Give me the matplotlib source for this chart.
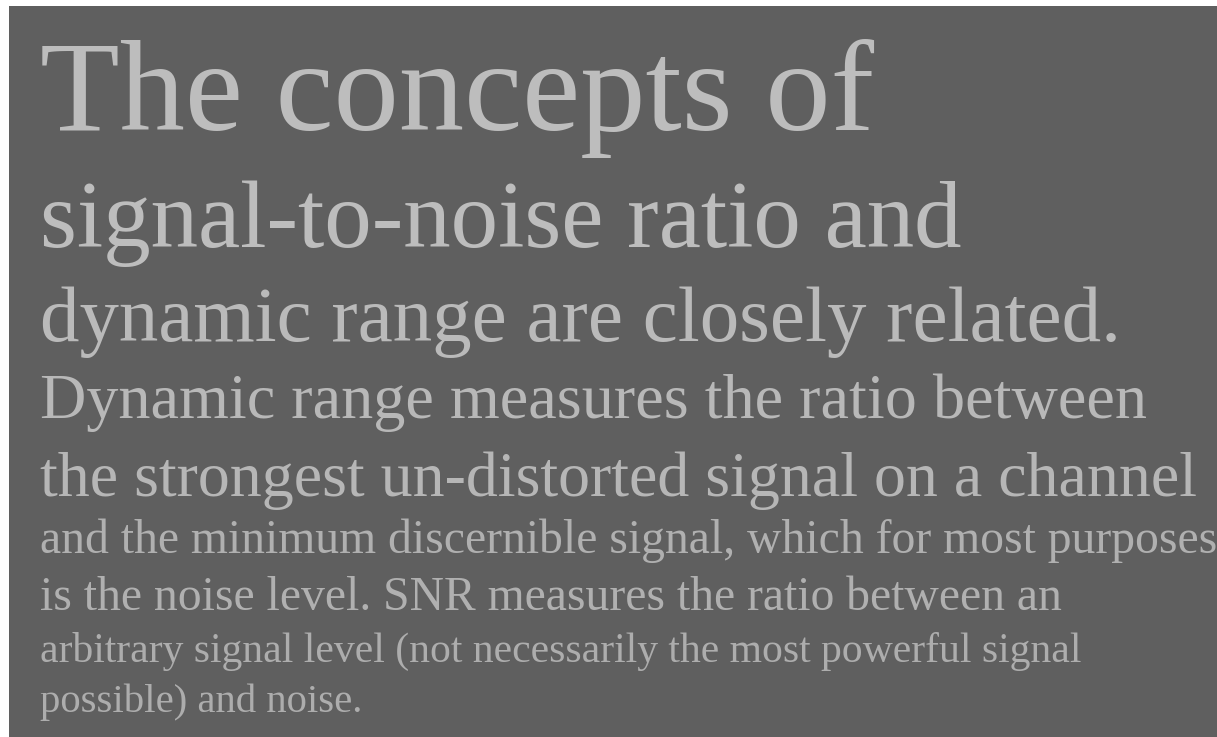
import matplotlib
matplotlib.use("Agg")
import matplotlib.pyplot as plt
from matplotlib.patches import Rectangle


lines = [
    "The concepts of",
    "signal-to-noise ratio and",
    "dynamic range are closely related.",
    "Dynamic range measures the ratio between",
    "the strongest un-distorted signal on a channel",
    "and the minimum discernible signal, which for most purposes",
    "is the noise level. SNR measures the ratio between an",
    "arbitrary signal level (not necessarily the most powerful signal",
    "possible) and noise.",
]

# layout (pixels from top-left)
W, H = 1217, 737
left_x = 40
baselines = [130, 247, 341, 418, 496, 553, 610, 662, 712]
right_x = [873, 962, 1120, 1145, 1197, 1216, 1060, 1080, 362]
text_colors = ["#bdbdbd", "#bdbdbd", "#bababa", "#b8b8b8", "#b6b6b6",
               "#b0b0b0", "#b0b0b0", "#adadad", "#adadad"]

fig = plt.figure(figsize=(W / 100, H / 100), dpi=100, facecolor="white")
fig.patches.append(Rectangle((9, 0), W - 9, H - 6, transform=None,
                             facecolor="#5f5f5f", edgecolor="none", zorder=0))

renderer = fig.canvas.get_renderer()
for txt, base, rx, col in zip(lines, baselines, right_x, text_colors):
    t = fig.text(left_x, H - base, txt, transform=None, ha="left", va="baseline",
                 family="Liberation Serif", fontsize=100, color=col)
    bb = t.get_window_extent(renderer)
    t.set_fontsize(100 * (rx - left_x) / bb.width)

fig.savefig("out.png", dpi=100, facecolor="white")
